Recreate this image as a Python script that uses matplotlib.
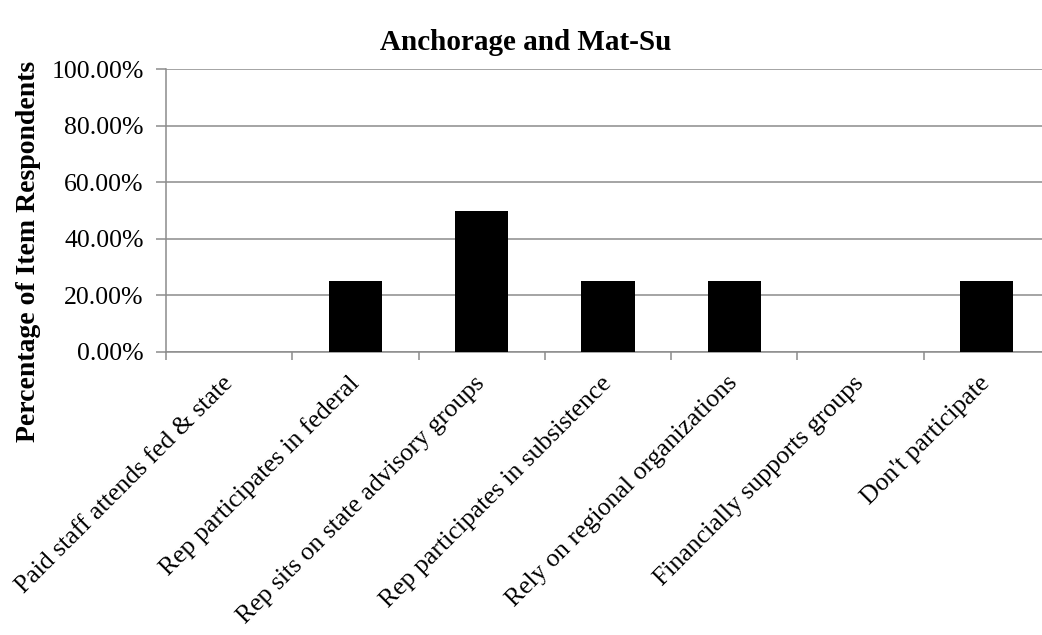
import matplotlib.pyplot as plt
import numpy as np

categories = ['Paid staff attends fed & state',
              'Rep participates in federal',
              'Rep sits on state advisory groups',
              'Rep participates in subsistence',
              'Rely on regional organizations',
              'Financially supports groups',
              "Don't participate"]
values = [0.0, 25.0, 50.0, 25.0, 25.0, 0.0, 25.0]
yticks = [0, 20, 40, 60, 80, 100]

plt.rcParams['font.family'] = ['Liberation Serif', 'DejaVu Serif']
grey = '#8c8c8c'

fig = plt.figure(figsize=(10.42, 6.35), dpi=100)
ax = fig.add_axes([166 / 1042, 1 - 352 / 635, 884 / 1042, 283 / 635])

x = np.arange(len(categories))
ax.bar(x, values, width=0.42, color='black', zorder=3)

ax.set_xlim(-0.5, len(categories) - 0.5)
ax.set_ylim(0, 100)
ax.set_yticks(yticks)
ax.set_yticklabels(['%.2f%%' % v for v in yticks], fontsize=18.5)
ax.yaxis.grid(True, color=grey, linewidth=1.1, zorder=0)

ax.set_xticks(np.arange(len(categories) + 1) - 0.5)
ax.set_xticklabels([])
ax.set_xticks(x, minor=True)
ax.set_xticklabels(categories, minor=True, rotation=45, ha='right', va='center',
                   rotation_mode='anchor', fontsize=18.5)
ax.tick_params(axis='x', which='minor', length=0, pad=20)
ax.tick_params(axis='x', which='major', length=6, color=grey, width=1.1)
ax.tick_params(axis='y', length=7, color=grey, width=1.1, pad=9)

for s in ['top', 'right']:
    ax.spines[s].set_visible(False)
for s in ['left', 'bottom']:
    ax.spines[s].set_color(grey)
    ax.spines[s].set_linewidth(1.1)

fig.text(29 / 1042, 1 - 251 / 635, 'Percentage of Item Respondents', fontsize=20,
         fontweight='bold', rotation=90, ha='center', va='center')
fig.text(526 / 1042, 1 - 43 / 635, 'Anchorage and Mat-Su', fontsize=21, fontweight='bold',
         ha='center', va='center')

plt.savefig('out.png')
